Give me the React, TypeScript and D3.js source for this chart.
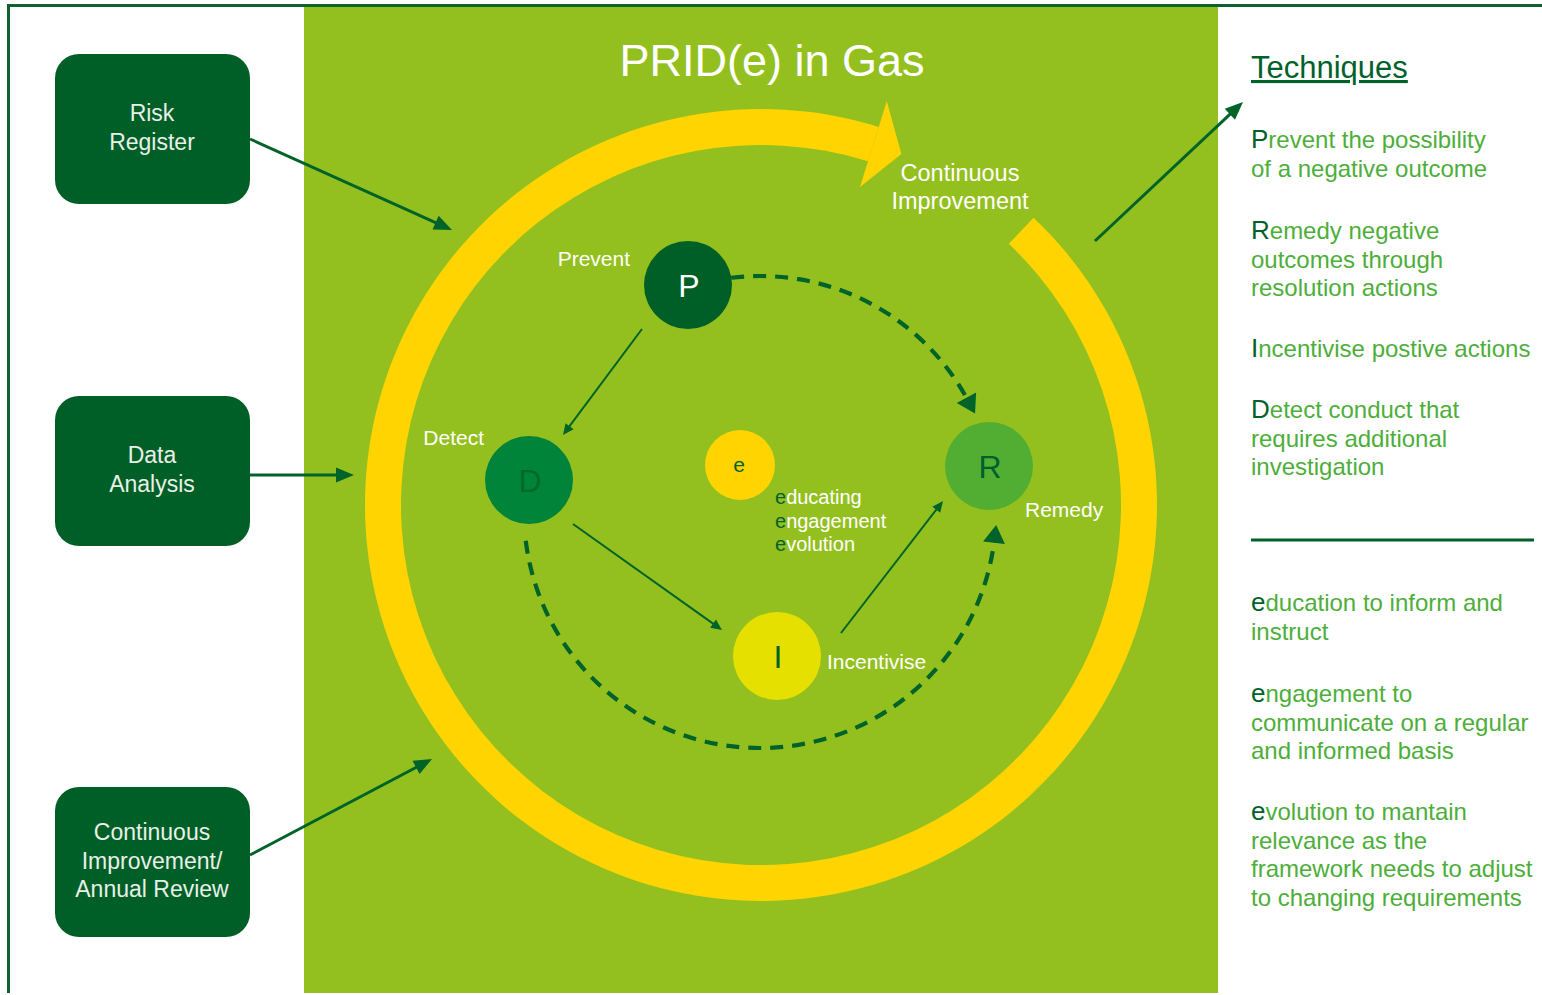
import React from "react";
import * as d3 from "d3";

// ---------- content ----------
const TITLE = "PRID(e) in Gas";
const BOX_LABELS: string[][] = [
  ["Risk", "Register"],
  ["Data", "Analysis"],
  ["Continuous", "Improvement/", "Annual Review"],
];
const NODE_LETTERS = ["P", "D", "I", "R"];
const NODE_LABELS = ["Prevent", "Detect", "Incentivise", "Remedy"];
const E_LETTER = "e";
const E_WORDS = ["educating", "engagement", "evolution"];
const RING_LABEL = ["Continuous", "Improvement"];
const TECH_HEADING = "Techniques";
const TECH_TOP: string[][] = [
  ["Prevent the possibility", "of a negative outcome"],
  ["Remedy negative", "outcomes through", "resolution actions"],
  ["Incentivise postive actions"],
  ["Detect conduct that", "requires additional", "investigation"],
];
const TECH_BOTTOM: string[][] = [
  ["education to inform and", "instruct"],
  ["engagement to", "communicate on a regular", "and informed basis"],
  ["evolution to mantain", "relevance as the", "framework needs to adjust", "to changing requirements"],
];

// ---------- layout ----------
const W = 1542;
const H = 995;
const FONT = "'Liberation Sans', Arial, Helvetica, sans-serif";
const COL = {
  frame: "#10612F",
  panel: "#93C01F",
  box: "#005F27",
  boxText: "#E8F0E8",
  ring: "#FFD400",
  arrow: "#00632A",
  techText: "#4DAE3A",
  techDark: "#00612A",
};
const NODE_POS = [
  { x: 688, y: 285, fill: "#005F27", text: "#FFFFFF" },
  { x: 529, y: 480, fill: "#00843A", text: "#006A2E" },
  { x: 777, y: 656, fill: "#E6E000", text: "#00612A" },
  { x: 989, y: 466, fill: "#52AE32", text: "#00612A" },
];
const NODE_R = 44;
const LABEL_POS = [
  { x: 630, y: 266, anchor: "end" },
  { x: 484, y: 445, anchor: "end" },
  { x: 827, y: 669, anchor: "start" },
  { x: 1025, y: 517, anchor: "start" },
];
const E_POS = { x: 740, y: 465, r: 35 };
const RING = { cx: 761, cy: 505, inner: 360, outer: 396, start: 43.5, end: 377.3, headIn: 333, headOut: 423, tip: 21.8 };
const DASH = { cx: 760, cy: 512, r: 236 };
const BOX = { x: 55, w: 195, h: 150, rx: 24, tops: [54, 396, 787] };

const rad = (deg: number) => (deg * Math.PI) / 180;
// d3 convention: 0 at top, clockwise
const polar = (cx: number, cy: number, r: number, deg: number): [number, number] => [
  cx + r * Math.sin(rad(deg)),
  cy - r * Math.cos(rad(deg)),
];

function headPoints(tip: [number, number], dir: [number, number], len: number, wid: number) {
  const L = Math.hypot(dir[0], dir[1]);
  const ux = dir[0] / L, uy = dir[1] / L;
  const bx = tip[0] - ux * len, by = tip[1] - uy * len;
  const px = -uy, py = ux;
  return [
    [tip[0], tip[1]],
    [bx + (px * wid) / 2, by + (py * wid) / 2],
    [bx - (px * wid) / 2, by - (py * wid) / 2],
  ]
    .map((p) => p.join(","))
    .join(" ");
}

function Arrow(props: { x1: number; y1: number; x2: number; y2: number; sw: number; len: number; wid: number }) {
  const { x1, y1, x2, y2, sw, len, wid } = props;
  const dx = x2 - x1, dy = y2 - y1;
  const L = Math.hypot(dx, dy);
  const ex = x2 - (dx / L) * len * 0.8, ey = y2 - (dy / L) * len * 0.8;
  return (
    <g>
      <line x1={x1} y1={y1} x2={ex} y2={ey} stroke={COL.arrow} strokeWidth={sw} />
      <polygon points={headPoints([x2, y2], [dx, dy], len, wid)} fill={COL.arrow} />
    </g>
  );
}

function DashedArc(props: { a0: number; a1: number; ccw: boolean }) {
  const { a0, a1, ccw } = props;
  const p = d3.path();
  const [sx, sy] = polar(DASH.cx, DASH.cy, DASH.r, a0);
  p.moveTo(sx, sy);
  p.arc(DASH.cx, DASH.cy, DASH.r, rad(a0 - 90), rad(a1 - 90), ccw);
  const end = polar(DASH.cx, DASH.cy, DASH.r, a1);
  const t = rad(a1);
  const dir: [number, number] = ccw ? [-Math.cos(t), -Math.sin(t)] : [Math.cos(t), Math.sin(t)];
  const tip: [number, number] = [end[0] + dir[0] * 16, end[1] + dir[1] * 16];
  return (
    <g>
      <path d={p.toString()} fill="none" stroke={COL.arrow} strokeWidth={4.2} strokeDasharray="13 9" />
      <polygon points={headPoints(tip, dir, 18, 22)} fill={COL.arrow} />
    </g>
  );
}

export default function App() {
  const ringPath = d3.arc()({
    innerRadius: RING.inner,
    outerRadius: RING.outer,
    startAngle: rad(RING.start),
    endAngle: rad(RING.end),
  } as any) as string;
  const hb1 = polar(RING.cx, RING.cy, RING.headOut, RING.end);
  const hb2 = polar(RING.cx, RING.cy, RING.headIn, RING.end);
  const ht = polar(RING.cx, RING.cy, (RING.inner + RING.outer) / 2, RING.tip + 360);

  const lineH = 28.5;
  const techBaseTop = [148, 239, 357, 418];
  const techBaseBottom = [611, 702, 820];

  const techBlock = (items: string[][], bases: number[], key: string) =>
    items.map((lines, i) =>
      lines.map((ln, j) => (
        <text key={`${key}${i}-${j}`} x={1251} y={bases[i] + j * lineH} fontSize={24} fill={COL.techText}>
          {j === 0 ? (
            <>
              <tspan fill={COL.techDark} fontSize={26}>
                {ln[0]}
              </tspan>
              {ln.slice(1)}
            </>
          ) : (
            ln
          )}
        </text>
      ))
    );

  return (
    <svg
      width={W}
      height={H}
      viewBox={`0 0 ${W} ${H}`}
      style={{ position: "absolute", left: 0, top: 0, fontFamily: FONT }}
    >
      <rect x={0} y={0} width={W} height={H} fill="#FFFFFF" />
      {/* green panel */}
      <rect x={304} y={7} width={914} height={986} fill={COL.panel} />
      {/* frame */}
      <line x1={8.5} y1={4} x2={8.5} y2={993} stroke={COL.frame} strokeWidth={3} />
      <line x1={7} y1={5.5} x2={W} y2={5.5} stroke={COL.frame} strokeWidth={3} />

      {/* title */}
      <text x={772} y={76} fontSize={45} fill="#FFFFFF" textAnchor="middle">
        {TITLE}
      </text>

      {/* yellow ring */}
      <path d={ringPath} transform={`translate(${RING.cx},${RING.cy})`} fill={COL.ring} />
      <polygon points={[hb1, ht, hb2].map((p) => p.join(",")).join(" ")} fill={COL.ring} />
      {RING_LABEL.map((t, i) => (
        <text key={t} x={960} y={181 + i * 28} fontSize={23.5} fill="#FFFFFF" textAnchor="middle">
          {t}
        </text>
      ))}

      {/* left boxes */}
      {BOX_LABELS.map((lines, i) => {
        const top = BOX.tops[i];
        const cy = top + BOX.h / 2;
        return (
          <g key={`box${i}`}>
            <rect x={BOX.x} y={top} width={BOX.w} height={BOX.h} rx={BOX.rx} fill={COL.box} />
            {lines.map((ln, j) => (
              <text
                key={ln}
                x={BOX.x + BOX.w / 2 - 0.5}
                y={cy + (j - (lines.length - 1) / 2) * 28.7 + 6.5}
                fontSize={23}
                fill={COL.boxText}
                textAnchor="middle"
              >
                {ln}
              </text>
            ))}
          </g>
        );
      })}

      {/* big arrows */}
      <Arrow x1={250} y1={139} x2={452} y2={230} sw={3} len={18} wid={15} />
      <Arrow x1={250} y1={475} x2={354} y2={475} sw={3} len={18} wid={15} />
      <Arrow x1={250} y1={855} x2={432} y2={759} sw={3} len={18} wid={15} />
      <Arrow x1={1095} y1={241} x2={1243} y2={102} sw={3} len={18} wid={15} />

      {/* dashed arcs */}
      <DashedArc a0={-7} a1={61.5} ccw={false} />
      <DashedArc a0={263} a1={97} ccw={true} />

      {/* thin arrows */}
      <Arrow x1={642} y1={329} x2={563} y2={435} sw={2} len={11} wid={10} />
      <Arrow x1={573} y1={524} x2={722} y2={630} sw={2} len={11} wid={10} />
      <Arrow x1={841} y1={633} x2={943} y2={501} sw={2} len={11} wid={10} />

      {/* nodes */}
      {NODE_LETTERS.map((L, i) => {
        const p = NODE_POS[i];
        return (
          <g key={L}>
            <circle cx={p.x} cy={p.y} r={NODE_R} fill={p.fill} />
            <text x={p.x + 1} y={p.y + 11.5} fontSize={32} fill={p.text} textAnchor="middle">
              {L}
            </text>
          </g>
        );
      })}
      {NODE_LABELS.map((t, i) => {
        const p = LABEL_POS[i];
        return (
          <text key={t} x={p.x} y={p.y} fontSize={21} fill="#FFFFFF" textAnchor={p.anchor as any}>
            {t}
          </text>
        );
      })}

      {/* e circle */}
      <circle cx={E_POS.x} cy={E_POS.y} r={E_POS.r} fill={COL.ring} />
      <text x={E_POS.x - 1} y={E_POS.y + 7} fontSize={21} fill={COL.techDark} textAnchor="middle">
        {E_LETTER}
      </text>
      {E_WORDS.map((w, i) => (
        <text key={w} x={775} y={504 + i * 23.5} fontSize={20} fill="#FFFFFF">
          <tspan fill={COL.techDark}>{w[0]}</tspan>
          {w.slice(1)}
        </text>
      ))}

      {/* techniques */}
      <text x={1251} y={78} fontSize={31} fill={COL.techDark} textDecoration="underline">
        {TECH_HEADING}
      </text>
      {techBlock(TECH_TOP, techBaseTop, "t")}
      <line x1={1251} y1={540} x2={1534} y2={540} stroke={COL.techDark} strokeWidth={3} />
      {techBlock(TECH_BOTTOM, techBaseBottom, "b")}
    </svg>
  );
}
